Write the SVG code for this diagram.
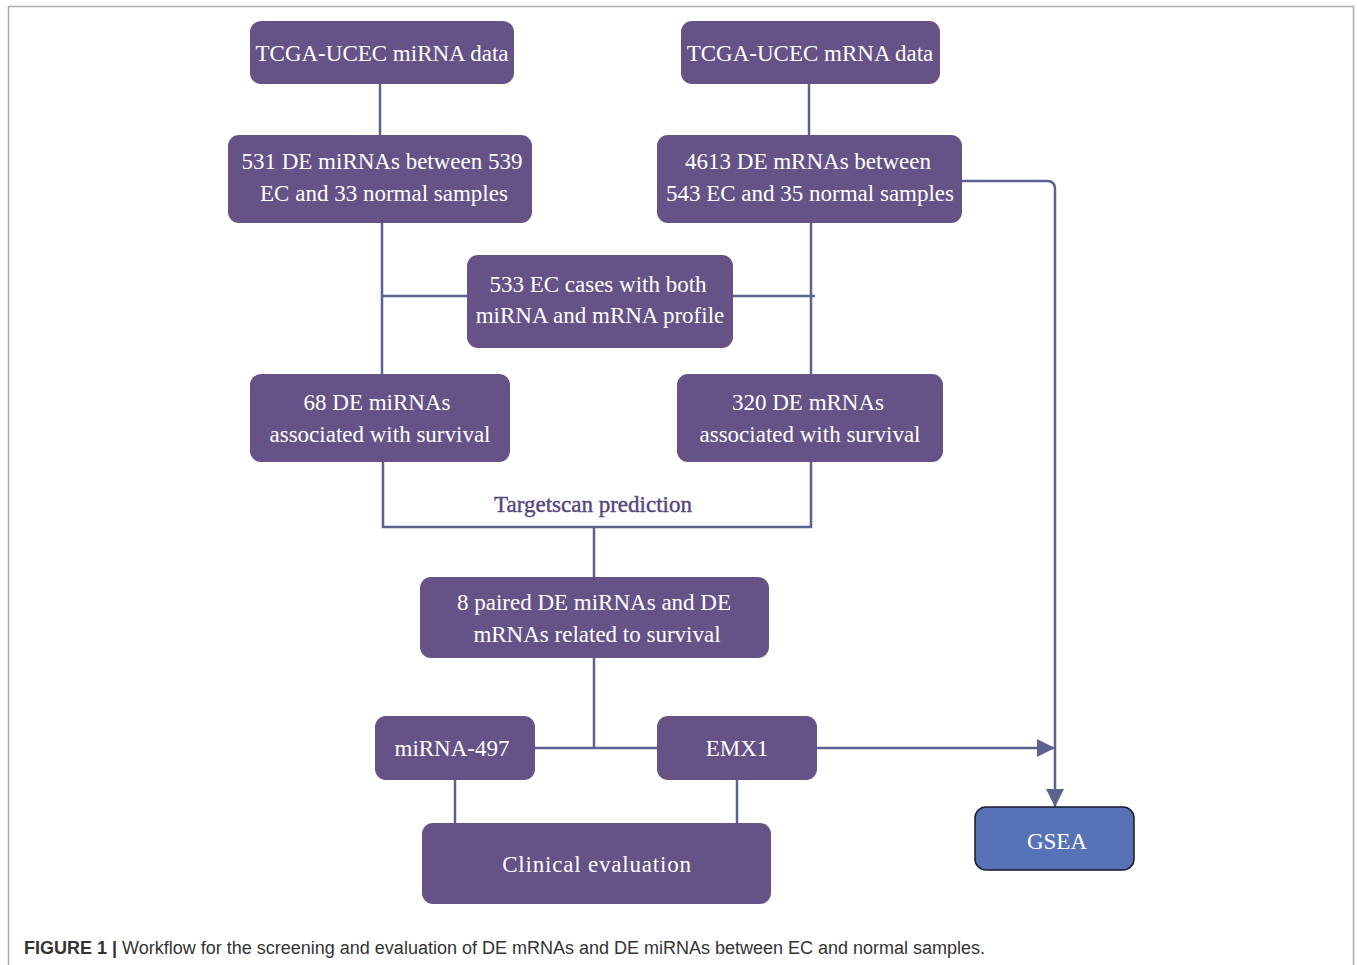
<svg xmlns="http://www.w3.org/2000/svg" width="1357" height="965" viewBox="0 0 1357 965">
<style>
.box{fill:#655287;}
.t{font-family:"Liberation Serif",serif;font-size:23px;fill:#ffffff;text-anchor:middle;}
.ln{stroke:#5b6290;stroke-width:2.5;fill:none;}
.cap{font-family:"Liberation Sans",Arial,sans-serif;font-size:18px;fill:#333;}
</style>
<defs>
<marker id="ah2" viewBox="0 0 10 10" refX="10" refY="5" markerWidth="18" markerHeight="18" markerUnits="userSpaceOnUse" orient="auto">
<path d="M0,0 L10,5 L0,10 z" fill="#5b6290"/>
</marker>
</defs>
<rect x="8.5" y="6.5" width="1345" height="980" fill="#ffffff" stroke="#aaaaaa" stroke-width="1.5"/>
<g id="connectors">
<line class="ln" x1="380" y1="84" x2="380" y2="135"/>
<line class="ln" x1="809" y1="84" x2="809" y2="135"/>
<line class="ln" x1="382" y1="223" x2="382" y2="374"/>
<line class="ln" x1="382" y1="296" x2="467" y2="296"/>
<line class="ln" x1="811" y1="223" x2="811" y2="374"/>
<line class="ln" x1="733" y1="296" x2="815" y2="296"/>
<polyline class="ln" points="383,462 383,527 811,527 811,462"/>
<line class="ln" x1="594" y1="527" x2="594" y2="577"/>
<line class="ln" x1="594" y1="658" x2="594" y2="748"/>
<line class="ln" x1="535" y1="748" x2="657" y2="748"/>
<line class="ln" x1="455" y1="780" x2="455" y2="823"/>
<line class="ln" x1="737" y1="780" x2="737" y2="823"/>
<line class="ln" x1="817" y1="748" x2="1055" y2="748" marker-end="url(#ah2)"/>
<path class="ln" d="M962,181 H1047 Q1055,181 1055,189 V807" stroke-width="2" marker-end="url(#ah2)"/>
<text x="593" y="512" font-family="Liberation Serif,serif" font-size="23" fill="#55457d" stroke="#55457d" stroke-width="0.4" text-anchor="middle">Targetscan prediction</text>
</g>
<g id="n1"><rect class="box" x="250" y="21" width="264" height="63" rx="11"/><text class="t" x="382" y="61">TCGA-UCEC miRNA data</text></g>
<g id="n2"><rect class="box" x="681" y="21" width="259" height="63" rx="11"/><text class="t" x="810" y="61">TCGA-UCEC mRNA data</text></g>
<g id="n3"><rect class="box" x="228" y="135" width="304" height="88" rx="11"/><text class="t" x="382" y="169">531 DE miRNAs between 539</text><text class="t" x="384" y="201">EC and 33 normal samples</text></g>
<g id="n4"><rect class="box" x="657" y="135" width="305" height="88" rx="11"/><text class="t" x="808" y="169">4613 DE mRNAs between</text><text class="t" x="810" y="201">543 EC and 35 normal samples</text></g>
<g id="n5"><rect class="box" x="467" y="255" width="266" height="93" rx="11"/><text class="t" x="598" y="292">533 EC cases with both</text><text class="t" x="600" y="323">miRNA and mRNA profile</text></g>
<g id="n6"><rect class="box" x="250" y="374" width="260" height="88" rx="11"/><text class="t" x="377" y="410">68 DE miRNAs</text><text class="t" x="380" y="442">associated with survival</text></g>
<g id="n7"><rect class="box" x="677" y="374" width="266" height="88" rx="11"/><text class="t" x="808" y="410">320 DE mRNAs</text><text class="t" x="810" y="442">associated with survival</text></g>
<g id="n8"><rect class="box" x="420" y="577" width="349" height="81" rx="11"/><text class="t" x="594" y="610">8 paired DE miRNAs and DE</text><text class="t" x="597" y="642">mRNAs related to survival</text></g>
<g id="n9"><rect class="box" x="375" y="716" width="160" height="64" rx="11"/><text class="t" x="452" y="756">miRNA-497</text></g>
<g id="n10"><rect class="box" x="657" y="716" width="160" height="64" rx="11"/><text class="t" x="737" y="756">EMX1</text></g>
<g id="n11"><rect class="box" x="422" y="823" width="349" height="81" rx="11"/><text class="t" x="597" y="872" letter-spacing="0.8">Clinical evaluation</text></g>
<g id="n12"><rect x="975" y="807" width="159" height="63" rx="11" fill="#5872b8" stroke="#1a1a2a" stroke-width="1.5"/><text class="t" x="1057" y="849" font-size="24">GSEA</text></g>
<text class="cap" x="24" y="954"><tspan font-weight="bold">FIGURE 1 |</tspan> Workflow for the screening and evaluation of DE mRNAs and DE miRNAs between EC and normal samples.</text>
</svg>
